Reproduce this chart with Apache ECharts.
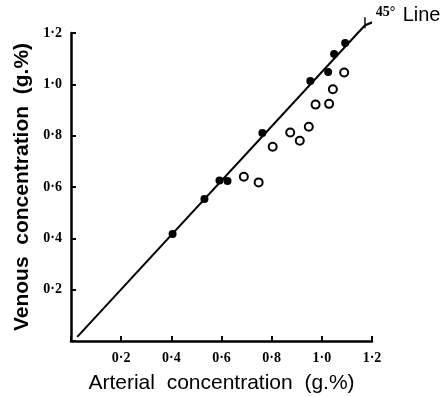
<!DOCTYPE html>
<html>
<head>
<meta charset="utf-8">
<script src="https://cdn.jsdelivr.net/npm/echarts@6/dist/echarts.min.js"></script>
<style>html,body{margin:0;padding:0;background:#fff;}#c{width:444px;height:397px;}</style>
</head>
<body>
<div id="c"></div>
<script>
// Axis ticks
var axisTicks = [0, 0.2, 0.4, 0.6, 0.8, 1.0, 1.2];
// Filled circles (on the 45° line): [arterial, venous]
var filledPoints = [
  [0.405, 0.417], [0.532, 0.553], [0.592, 0.625], [0.624, 0.623],
  [0.763, 0.810], [0.954, 1.013], [1.025, 1.048], [1.049, 1.118], [1.093, 1.161]
];
// Open circles: [arterial, venous]
var openPoints = [
  [0.689, 0.640], [0.748, 0.618], [0.804, 0.757], [0.874, 0.812], [0.912, 0.780],
  [0.948, 0.835], [0.975, 0.921], [1.029, 0.924], [1.044, 0.981], [1.089, 1.046]
];
// 45° line endpoints
var lineEnds = [[0.025, 0.016], [1.172, 1.230]];
var lineLabelA = '45°';
var lineLabelB = 'Line';
var xTitle = 'Arterial  concentration  (g.%)';
var yTitle = 'Venous  concentration  (g.%)';

function fmt(v) { return v === 0 ? '' : v.toFixed(1).replace('.', '·'); }

var axisCommon = {
  type: 'value',
  min: axisTicks[0],
  max: axisTicks[axisTicks.length - 1],
  interval: 0.2,
  nameLocation: 'middle',
  axisLine: { show: true, onZero: false, lineStyle: { color: '#000', width: 2.5 } },
  axisTick: { show: true, inside: true, length: 5, lineStyle: { color: '#000', width: 2 } },
  splitLine: { show: false },
  axisLabel: {
    formatter: fmt, color: '#000', fontFamily: 'Liberation Serif', fontWeight: 'bold', fontSize: 14
  }
};

var lineData = lineEnds.map(function (p, i) {
  if (i === lineEnds.length - 1) {
    return {
      value: p,
      symbol: 'path://M0,0 L0,11 M0,8 L7,5',
      symbolSize: [7, 11],
      symbolOffset: [3.5, -2.5],
      itemStyle: { color: 'rgba(0,0,0,0)', borderColor: '#000', borderWidth: 1.8 },
      label: {
        show: true, position: 'right', offset: [-2, -7],
        formatter: '{a|' + lineLabelA + '} {b|' + lineLabelB + '}',
        rich: {
          a: { fontFamily: 'Liberation Serif', fontWeight: 'bold', fontSize: 14, color: '#000', verticalAlign: 'top', padding: [0, 4, 6, 0] },
          b: { fontFamily: 'Liberation Sans', fontSize: 20, color: '#000' }
        }
      }
    };
  }
  return { value: p, symbol: 'none' };
});

var chart = echarts.init(document.getElementById('c'), null, { renderer: 'canvas' });
chart.setOption({
  animation: false,
  backgroundColor: '#fff',
  grid: { left: 71, right: 72, top: 33, bottom: 56, containLabel: false, outerBoundsMode: 'none' },
  xAxis: Object.assign({}, axisCommon, {
    name: xTitle, nameGap: 32,
    nameTextStyle: { fontFamily: 'Liberation Sans', fontSize: 21, color: '#000' },
    axisLabel: Object.assign({}, axisCommon.axisLabel, { margin: 10 })
  }),
  yAxis: Object.assign({}, axisCommon, {
    name: yTitle, nameGap: 38,
    nameTextStyle: { fontFamily: 'Liberation Sans', fontWeight: 'bold', fontSize: 21, color: '#000' },
    axisLabel: Object.assign({}, axisCommon.axisLabel, { margin: 9 })
  }),
  series: [
    {
      type: 'line', data: lineData, clip: false, showSymbol: true,
      lineStyle: { color: '#000', width: 2 }, silent: true, z: 1
    },
    {
      type: 'scatter', data: filledPoints, symbol: 'circle', symbolSize: 8,
      itemStyle: { color: '#000', opacity: 1 }, z: 3
    },
    {
      type: 'scatter', data: openPoints, symbol: 'circle', symbolSize: 8,
      itemStyle: { color: '#fff', borderColor: '#000', borderWidth: 2, opacity: 1 }, z: 3
    }
  ]
});
</script>
</body>
</html>
